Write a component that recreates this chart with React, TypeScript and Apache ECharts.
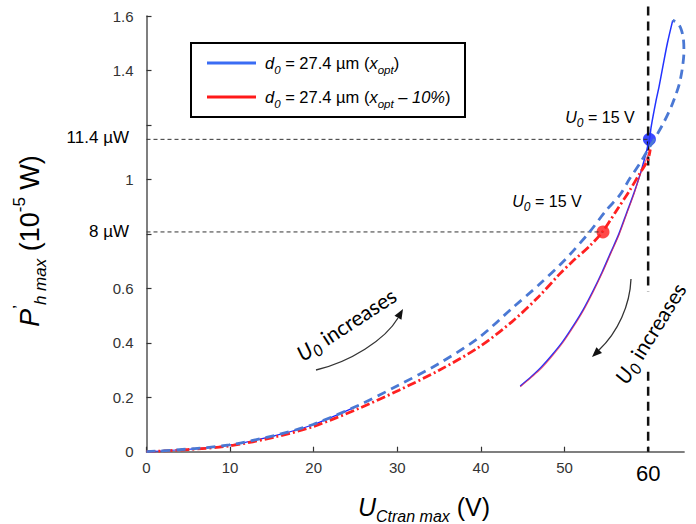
import React, { useEffect, useRef } from 'react';
import * as echarts from 'echarts';

// ---- data ----
const xTicks = [0, 10, 20, 30, 40, 50, 60];
const yTicks = [0, 0.2, 0.4, 0.6, 0.8, 1, 1.2, 1.4, 1.6];
const yHiddenLabels = [0.8, 1.2];
const xMax = 64.3;
const yMax = 1.6;

// blue (x_opt) – dashed branch (low U0 -> loop at top)
const blueDashed: number[][] = [
  [0, 0], [5.1, 0.01], [9.9, 0.025], [15.5, 0.061], [19.9, 0.1], [25.4, 0.171],
  [30.2, 0.245], [35, 0.324], [39.8, 0.42], [43.7, 0.526], [46.9, 0.612],
  [50, 0.703], [53, 0.807], [55, 0.887], [56.6, 0.942], [57.8, 1.003],
  [59, 1.058], [59.9, 1.105], [60.75, 1.148], [61.8, 1.205], [62.75, 1.266],
  [63.3, 1.31], [63.74, 1.352], [64.1, 1.41], [64.28, 1.47], [64.2, 1.52],
  [63.9, 1.555], [63.5, 1.575], [62.94, 1.584],
];
// thin blue line visible under the dashed one near the origin
const blueLow: number[][] = [
  [0, 0], [5.1, 0.009], [9.9, 0.024], [15.5, 0.06], [19.9, 0.099], [25.4, 0.17],
];
// blue (x_opt) – solid branch (back down)
const blueSolid: number[][] = [
  [62.94, 1.584], [62.3, 1.5], [61.75, 1.413], [61.3, 1.34], [60.95, 1.29],
  [60.36, 1.193], [60.15, 1.147], [59.2, 1.035], [58.3, 0.95], [57.4, 0.875],
  [56.5, 0.8], [55.5, 0.73], [54.5, 0.66], [53.4, 0.59], [52.2, 0.52],
  [51, 0.46], [49.8, 0.405], [48.5, 0.355], [47.2, 0.31], [46, 0.275], [44.7, 0.241],
];
// red (x_opt - 10%) – dashed branch
const redDashed: number[][] = [
  [0, 0], [5, 0.008], [9.9, 0.021], [15.5, 0.055], [19.9, 0.092], [25.4, 0.159],
  [30.2, 0.226], [35, 0.299], [39.8, 0.385], [43.7, 0.477], [46.9, 0.569],
  [49.4, 0.652], [51, 0.7], [53, 0.755], [54.6, 0.81], [56.2, 0.885],
  [57.8, 0.96], [59, 1.022], [59.95, 1.07], [60.25, 1.11],
];
// red (x_opt - 10%) – solid branch
const redSolid: number[][] = [
  [60.25, 1.11], [59.2, 1.03], [58.3, 0.945], [57.4, 0.87], [56.5, 0.795],
  [55.5, 0.725], [54.5, 0.655], [53.4, 0.585], [52.2, 0.515], [51, 0.455],
  [49.8, 0.4], [48.5, 0.35], [47.2, 0.305], [46, 0.272], [44.7, 0.238],
];
const blueDot = [60.15, 1.147];
const redDot = [54.6, 0.807];
const vLineUpper: number[][] = [[60, 1.635], [60, 0.587]];
const vLineLower: number[][] = [[60, 0.294], [60, 0]];
const ref114: number[][] = [[0, 1.147], [60.15, 1.147]];
const ref8: number[][] = [[0, 0.807], [54.6, 0.807]];

const FONT = '"Liberation Sans", Arial, sans-serif';
const CAL = 'Lato, "Open Sans", sans-serif';

function arrowHead(tip: number[], from: number[], len: number, half: number) {
  const dx = tip[0] - from[0];
  const dy = tip[1] - from[1];
  const d = Math.hypot(dx, dy);
  const ux = dx / d, uy = dy / d;
  const bx = tip[0] - ux * len, by = tip[1] - uy * len;
  return [tip, [bx - uy * half, by + ux * half], [bx + uy * half, by - ux * half]];
}

export default function App() {
  const ref = useRef<HTMLDivElement>(null);
  useEffect(() => {
    if (!ref.current) return;
    const chart = echarts.init(ref.current, undefined, { renderer: 'svg' });

    const subRich = (main: number, sub: number, lh: number, family: string) => ({
      i: { fontSize: main, fontStyle: 'italic', fontFamily: family, lineHeight: lh, color: '#000' },
      n: { fontSize: main, fontFamily: family, lineHeight: lh, color: '#000' },
      s: { fontSize: sub, fontStyle: 'italic', fontFamily: family, verticalAlign: 'bottom', color: '#000' },
      p: { fontSize: sub, fontFamily: family, verticalAlign: 'top', color: '#000' },
    });

    const leftArrow = { s: [316, 370], c1: [350, 362], c2: [385, 340], e: [398, 318] };
    const rightArrow = { s: [631, 279], c1: [630, 305], c2: [618, 332], e: [599, 350] };

    chart.setOption({
      animation: false,
      backgroundColor: '#fff',
      textStyle: { fontFamily: FONT },
      grid: { left: 146.5, right: 11.9, top: 16, bottom: 72.3, containLabel: false },
      xAxis: {
        type: 'value', min: 0, max: xMax, interval: 10,
        axisLine: { show: true, lineStyle: { color: '#555', width: 1.5 } },
        axisTick: { show: true, inside: true, length: 5, customValues: xTicks, lineStyle: { color: '#333', width: 1.2 } },
        axisLabel: {
          customValues: xTicks, fontSize: 15, color: '#333', margin: 8, fontFamily: FONT,
          formatter: (v: number) => (v === 60 ? '{big|60}' : String(v)),
          rich: { big: { fontSize: 22, color: '#000', fontFamily: FONT, padding: [3, 0, 0, 0] } },
        },
        splitLine: { show: false },
      },
      yAxis: {
        type: 'value', min: 0, max: yMax, interval: 0.2,
        axisLine: { show: true, lineStyle: { color: '#555', width: 1.5 } },
        axisTick: { show: true, inside: true, length: 5, customValues: yTicks, lineStyle: { color: '#333', width: 1.2 } },
        axisLabel: {
          customValues: yTicks, fontSize: 15, color: '#333', margin: 13, fontFamily: FONT,
          formatter: (v: number) => (yHiddenLabels.some((h) => Math.abs(h - v) < 1e-6) ? '' : String(Math.round(v * 10) / 10)),
        },
        splitLine: { show: false },
      },
      series: [
        { type: 'line', data: ref114, showSymbol: false, silent: true, lineStyle: { color: '#333', width: 1, type: [4, 3] } },
        { type: 'line', data: ref8, showSymbol: false, silent: true, lineStyle: { color: '#333', width: 1, type: [4, 3] } },
        { type: 'line', data: vLineUpper, showSymbol: false, clip: false, lineStyle: { color: '#111', width: 2.5, type: [9, 6] } },
        { type: 'line', data: vLineLower, showSymbol: false, clip: false, lineStyle: { color: '#111', width: 2.5, type: [9, 6] } },
        { type: 'line', data: blueLow, showSymbol: false, smooth: 0.3, lineStyle: { color: '#1a2cff', width: 1.2 } },
        { type: 'line', data: blueSolid, showSymbol: false, smooth: 0.3, lineStyle: { color: '#2233ff', width: 1.5 } },
        { type: 'line', data: redSolid, showSymbol: false, smooth: 0.3, lineStyle: { color: '#e8204a', width: 1.1, opacity: 0.7 } },
        { type: 'line', data: redDashed, showSymbol: false, smooth: 0.3, lineStyle: { color: '#ff2020', width: 2.8, type: [9, 3, 2, 3] } },
        { type: 'line', data: blueDashed, showSymbol: false, smooth: 0.3, clip: false, lineStyle: { color: '#4a78d4', width: 2.8, type: [9, 6] } },
        { type: 'scatter', data: [blueDot], symbolSize: 13, itemStyle: { color: '#0a1cff' } },
        { type: 'scatter', data: [redDot], symbolSize: 13, itemStyle: { color: '#ff1a1a' } },
      ],
      graphic: [
        // legend box
        { type: 'rect', shape: { x: 191, y: 43, width: 274, height: 74 }, style: { fill: '#fff', stroke: '#000', lineWidth: 2 }, z: 10 },
        { type: 'line', shape: { x1: 207, y1: 63, x2: 256, y2: 63 }, style: { stroke: '#3a6cf4', lineWidth: 3 }, z: 11 },
        { type: 'line', shape: { x1: 207, y1: 97, x2: 256, y2: 97 }, style: { stroke: '#ff1a1a', lineWidth: 3 }, z: 11 },
        {
          type: 'text', x: 265, y: 63, z: 11,
          style: { text: '{i|d}{s|0}{n| = 27.4 µm (}{i|x}{s|opt}{n|)}', rich: subRich(16.5, 11.5, 26, FONT), verticalAlign: 'middle', align: 'left' },
        },
        {
          type: 'text', x: 265, y: 97, z: 11,
          style: { text: '{i|d}{s|0}{n| = 27.4 µm (}{i|x}{s|opt}{i| – 10%}{n|)}', rich: subRich(16.5, 11.5, 26, FONT), verticalAlign: 'middle', align: 'left' },
        },
        // U0 = 15 V labels
        {
          type: 'text', x: 600, y: 117, z: 11,
          style: { text: '{i|U}{s|0}{n| = 15 V}', rich: subRich(16, 12, 24, FONT), verticalAlign: 'middle', align: 'center' },
        },
        {
          type: 'text', x: 547, y: 201, z: 11,
          style: { text: '{i|U}{s|0}{n| = 15 V}', rich: subRich(16, 12, 24, FONT), verticalAlign: 'middle', align: 'center' },
        },
        // y value labels
        { type: 'text', x: 129, y: 137, style: { text: '11.4 µW', font: `17px ${FONT}`, fill: '#000', align: 'right', verticalAlign: 'middle' } },
        { type: 'text', x: 129, y: 231, style: { text: '8 µW', font: `17px ${FONT}`, fill: '#000', align: 'right', verticalAlign: 'middle' } },
        // axis names
        {
          type: 'text', x: 30, y: 241, rotation: Math.PI / 2,
          style: { text: '{i|P}{p|’}{s|h max}{n| (10}{p|-5}{n| W)}', rich: subRich(27, 17, 38, FONT), align: 'center', verticalAlign: 'middle' },
        },
        {
          type: 'text', x: 424, y: 507,
          style: { text: '{i|U}{s|Ctran max}{n| (V)}', rich: subRich(25, 16, 34, FONT), align: 'center', verticalAlign: 'middle' },
        },
        // U0 increases (left)
        {
          type: 'text', x: 346, y: 324, rotation: (33 * Math.PI) / 180,
          style: { text: '{i|U}{s|0}{n| increases}', rich: subRich(21, 16, 28, CAL), align: 'center', verticalAlign: 'middle' },
        },
        {
          type: 'bezierCurve',
          shape: { x1: leftArrow.s[0], y1: leftArrow.s[1], cpx1: leftArrow.c1[0], cpy1: leftArrow.c1[1], cpx2: leftArrow.c2[0], cpy2: leftArrow.c2[1], x2: leftArrow.e[0], y2: leftArrow.e[1] },
          style: { stroke: '#333', lineWidth: 1.3, fill: null },
        },
        {
          type: 'polygon',
          shape: { points: arrowHead([leftArrow.e[0] + 5, leftArrow.e[1] - 9], leftArrow.c2, 10, 4) },
          style: { fill: '#111' },
        },
        // U0 increases (right)
        {
          type: 'text', x: 650, y: 333, rotation: (58 * Math.PI) / 180,
          style: { text: '{i|U}{s|0}{n| increases}', rich: subRich(21, 16, 28, CAL), align: 'center', verticalAlign: 'middle' },
        },
        {
          type: 'bezierCurve',
          shape: { x1: rightArrow.s[0], y1: rightArrow.s[1], cpx1: rightArrow.c1[0], cpy1: rightArrow.c1[1], cpx2: rightArrow.c2[0], cpy2: rightArrow.c2[1], x2: rightArrow.e[0], y2: rightArrow.e[1] },
          style: { stroke: '#333', lineWidth: 1.3, fill: null },
        },
        {
          type: 'polygon',
          shape: { points: arrowHead([rightArrow.e[0] - 7, rightArrow.e[1] + 7], rightArrow.c2, 10, 4) },
          style: { fill: '#111' },
        },
      ],
    });
    return () => chart.dispose();
  }, []);
  return <div ref={ref} style={{ position: 'fixed', left: 0, top: 0, width: 696, height: 524, background: '#fff' }} />;
}
